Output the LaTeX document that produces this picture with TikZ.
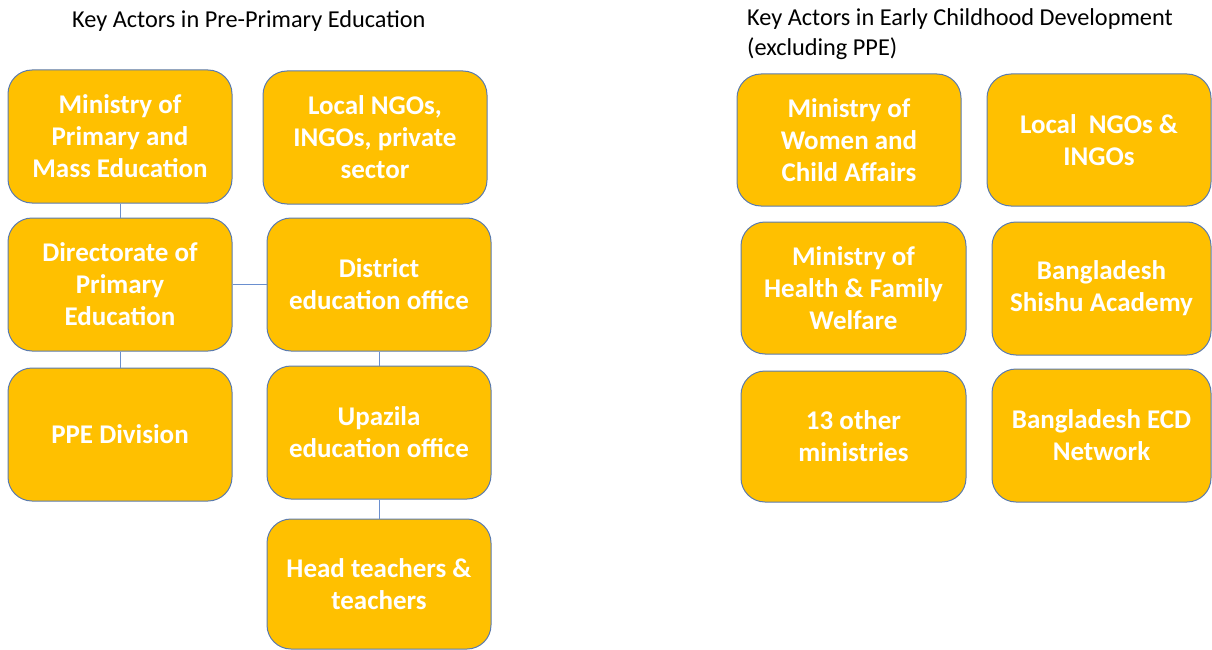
\documentclass[tikz,border=0pt]{standalone}
\usepackage{fontspec}
\setmainfont{Carlito}
\definecolor{boxfill}{HTML}{FFC000}
\definecolor{boxline}{HTML}{5B7BAE}
\definecolor{conn}{HTML}{6A8FCF}
\begin{document}
\begin{tikzpicture}[x=1pt,y=-1pt,
  actor/.style={draw=boxline, line width=1pt, fill=boxfill, rounded corners=24pt,
    text=white, align=center, inner sep=0pt,
    font=\fontsize{27}{32}\selectfont\bfseries},
  conline/.style={draw=conn, line width=0.9pt},
  ttl/.style={anchor=north west, inner sep=0pt, align=left,
    font=\fontsize{24.3}{30}\selectfont}]
\useasboundingbox (0,0) rectangle (1212,650);
% titles
\node[ttl] (t1) at (72,10) {Key Actors in Pre-Primary Education};
\node[ttl] (t2) at (747,8) {Key Actors in Early Childhood Development\\(excluding PPE)};
% left column
\node[actor, minimum width=224pt, minimum height=133pt] (mopme) at (120,136.5) {Ministry of\\Primary and\\Mass Education};
\node[actor, minimum width=224pt, minimum height=133pt] (dpe) at (120,284.5) {Directorate of\\Primary\\Education};
\node[actor, minimum width=224pt, minimum height=133pt] (ppe) at (120,434.5) {PPE Division};
% second column
\node[actor, minimum width=224pt, minimum height=133pt] (ngo) at (375,137.5) {Local NGOs,\\INGOs, private\\sector};
\node[actor, minimum width=224pt, minimum height=133pt] (deo) at (379,284.5) {District\\education office};
\node[actor, minimum width=224pt, minimum height=133pt] (ueo) at (379,432.5) {Upazila\\education office};
\node[actor, minimum width=224pt, minimum height=130pt] (ht) at (379,584) {Head teachers \&\\teachers};
% right columns
\node[actor, minimum width=224pt, minimum height=132pt] (mowca) at (849,140) {Ministry of\\Women and\\Child Affairs};
\node[actor, minimum width=225pt, minimum height=132pt] (mohfw) at (853.5,288) {Ministry of\\Health \& Family\\Welfare};
\node[actor, minimum width=225pt, minimum height=131pt] (other) at (853.5,436.5) {13 other\\ministries};
\node[actor, minimum width=224pt, minimum height=132pt] (ngo2) at (1099,140) {Local~ NGOs \&\\INGOs};
\node[actor, minimum width=219pt, minimum height=133pt] (bsa) at (1101.5,288.5) {Bangladesh\\Shishu Academy};
\node[actor, minimum width=219pt, minimum height=133pt] (ecd) at (1101.5,435.5) {Bangladesh ECD\\Network};
% connectors
\draw[conline] (mopme.south) -- (dpe.north);
\draw[conline] (dpe.south) -- (ppe.north);
\draw[conline] (dpe.east) -- (deo.west);
\draw[conline] (deo.south) -- (ueo.north);
\draw[conline] (ueo.south) -- (ht.north);
\end{tikzpicture}
\end{document}
